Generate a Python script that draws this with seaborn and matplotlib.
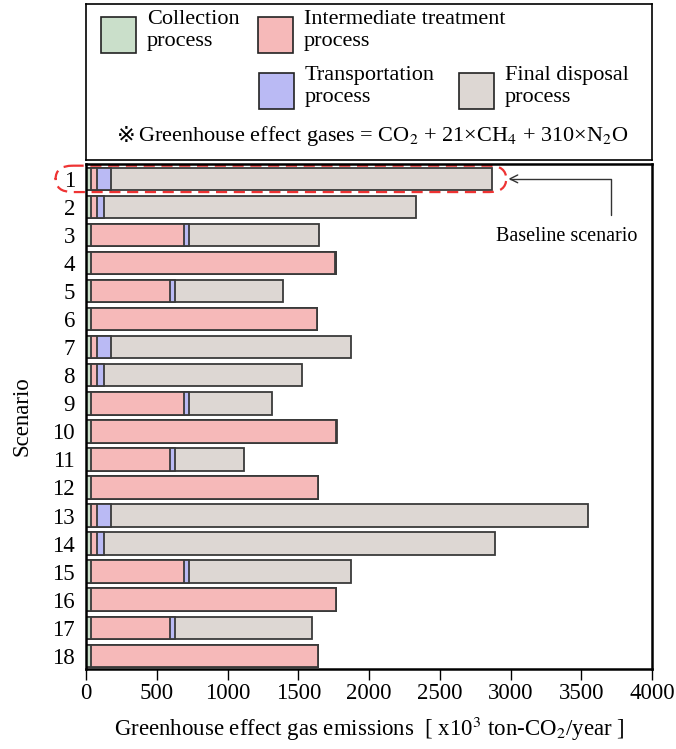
import numpy as np
import pandas as pd
import seaborn as sns
import matplotlib.pyplot as plt
from matplotlib.patches import FancyBboxPatch, Rectangle

scenarios = [str(i) for i in range(1, 19)]
collection = [35] * 18
intermediate = [45, 45, 658, 1728, 562, 1600,
                45, 45, 658, 1732, 562, 1605,
                45, 45, 658, 1729, 562, 1605]
transportation = [97, 49, 37, 3, 30, 0,
                  97, 49, 37, 3, 30, 0,
                  97, 49, 37, 3, 30, 0]
final_disposal = [2693, 2206, 918, 1, 766, 0,
                  1698, 1399, 586, 1, 490, 0,
                  3373, 2764, 1145, 1, 970, 0]

labels = ['Collection\nprocess', 'Intermediate treatment\nprocess',
          'Transportation\nprocess', 'Final disposal\nprocess']
colors = ['#cadfca', '#f6b9b9', '#babaf4', '#ddd7d3']

df = pd.DataFrame({'scenario': scenarios, 'c': collection, 'i': intermediate,
                   't': transportation, 'f': final_disposal})
df['cum_c'] = df['c']
df['cum_i'] = df['cum_c'] + df['i']
df['cum_t'] = df['cum_i'] + df['t']
df['cum_f'] = df['cum_t'] + df['f']

plt.rcParams['font.family'] = ['Liberation Serif', 'DejaVu Sans']
plt.rcParams['mathtext.fontset'] = 'stix'

fig = plt.figure(figsize=(6.76, 7.49), dpi=100)
W, H = 676, 749
ax = fig.add_axes([86 / W, 1 - 669 / H, 566 / W, 505 / H])
lax = fig.add_axes([86 / W, 1 - 160 / H, 566 / W, 156 / H])

# stacked bars: draw cumulative totals from longest to shortest
for col, color in zip(['cum_f', 'cum_t', 'cum_i', 'cum_c'], colors[::-1]):
    sns.barplot(data=df, x=col, y='scenario', orient='h', color=color,
                width=0.8, edgecolor='#3a3a3a', linewidth=1.3,
                saturation=1, ax=ax)

fs = 16.5
ax.set_xlim(0, 4000)
ax.set_ylim(17.47, -0.53)
ax.set_xticks(np.arange(0, 4001, 500))
ax.tick_params(axis='x', direction='out', length=8, width=1, labelsize=fs, pad=2)
ax.tick_params(axis='y', length=0, labelsize=fs, pad=8)
for s in ax.spines.values():
    s.set_linewidth(1.8)
    s.set_color('black')
ax.set_xlabel('Greenhouse effect gas emissions  [ x10$^3$ ton-CO$_2$/year ]',
              fontsize=fs, labelpad=8)
ax.set_ylabel('Scenario', fontsize=fs, labelpad=14)

# baseline marker
box = FancyBboxPatch((-215, -0.47), 3185, 0.94,
                     boxstyle='round,pad=0,rounding_size=120',
                     fill=False, edgecolor='#ee3333', linestyle=(0, (5, 3)),
                     linewidth=1.6, clip_on=False, mutation_aspect=1 / 250)
ax.add_patch(box)
ax.annotate('', xy=(2985, 0), xytext=(3710, 1.29),
            arrowprops=dict(arrowstyle='->', color='#333333', lw=1,
                            connectionstyle='angle,angleA=90,angleB=0,rad=0',
                            shrinkA=0, shrinkB=0, mutation_scale=14))
ax.text(3400, 2.07, 'Baseline scenario', ha='center', va='center', fontsize=14.5)

# legend box
lax.set_xlim(86, 652)
lax.set_ylim(160, 4)
lax.set_xticks([])
lax.set_yticks([])
for s in lax.spines.values():
    s.set_linewidth(1.2)
items = [(101, 17), (258, 17), (259, 73), (459, 73)]
for (x0, y0), lab, color in zip(items, labels, colors):
    lax.add_patch(Rectangle((x0, y0), 35, 36, facecolor=color,
                            edgecolor='#222222', linewidth=1.2))
    lax.text(x0 + 46, y0 - 7, lab, ha='left', va='top', fontsize=16,
             linespacing=1.2)
lax.text(126, 136, '※', ha='center', va='center', fontsize=16,
         family='DejaVu Sans')
lax.text(138, 136, 'Greenhouse effect gases = CO$_2$ + 21×CH$_4$ + 310×N$_2$O',
         ha='left', va='center', fontsize=16)

fig.savefig('out.png', dpi=100)
